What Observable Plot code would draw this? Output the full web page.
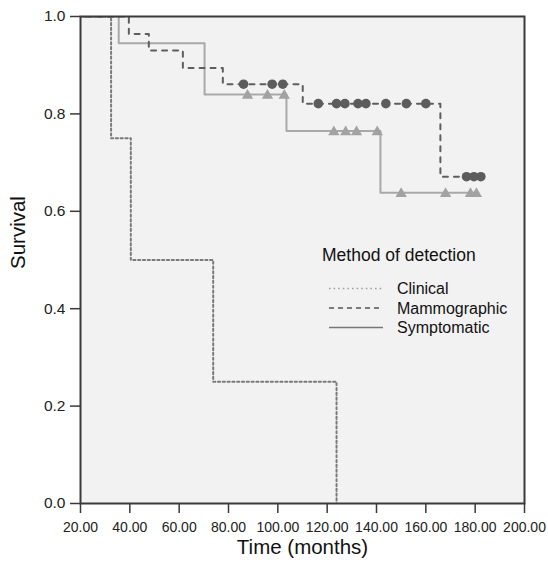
<!DOCTYPE html>
<html>
<head>
<meta charset="utf-8">
<script src="https://cdn.jsdelivr.net/npm/d3@7"></script>
<script src="https://cdn.jsdelivr.net/npm/@observablehq/plot@0.6"></script>
<style>
  body { margin: 0; background: #fff; }
  #chart { position: relative; width: 548px; height: 562px; }
</style>
</head>
<body>
<div id="chart"></div>
<script>
// ---- data ----
const groups = ["Clinical", "Mammographic", "Symptomatic"];

const clinicalTime = [0, 32.4, 40.4, 73.8, 123.8];
const clinicalSurv = [1, 0.75, 0.5, 0.25, 0];

const mammoTime = [0, 39.6, 47.7, 61.5, 77.7, 110.1, 165.9, 182.3];
const mammoSurv = [1, 0.964, 0.930, 0.894, 0.861, 0.821, 0.671, 0.671];

const sympTime = [0, 35.5, 70.3, 103.5, 141.6, 180.5];
const sympSurv = [1, 0.945, 0.840, 0.765, 0.638, 0.638];

const mammoCensorTime = [86.1, 97.7, 102.0, 116.4, 123.8, 127.2, 132.5, 135.7, 143.8, 152.1, 160.0, 176.5, 179.5, 182.3];
const mammoCensorSurv = [0.861, 0.861, 0.861, 0.821, 0.821, 0.821, 0.821, 0.821, 0.821, 0.821, 0.821, 0.671, 0.671, 0.671];

const sympCensorTime = [87.7, 95.8, 102.6, 122.7, 127.5, 131.9, 140.3, 150.0, 168.0, 178.1, 180.5];
const sympCensorSurv = [0.840, 0.840, 0.840, 0.765, 0.765, 0.765, 0.765, 0.638, 0.638, 0.638, 0.638];

const xTicks = [20, 40, 60, 80, 100, 120, 140, 160, 180, 200];
const yTicks = [0, 0.2, 0.4, 0.6, 0.8, 1.0];

const xTitle = "Time (months)";
const yTitle = "Survival";
const legendTitle = "Method of detection";

// ---- tables ----
const zip = (t, s) => t.map((d, i) => ({time: d, surv: s[i]}));
const clinical = zip(clinicalTime, clinicalSurv);
const mammo = zip(mammoTime, mammoSurv);
const symp = zip(sympTime, sympSurv);
const mammoCens = zip(mammoCensorTime, mammoCensorSurv);
const sympCens = zip(sympCensorTime, sympCensorSurv);

const styles = {
  Clinical:     {stroke: "#7a7a7a", dash: "2.2,2.6", legendStroke: "#a0a0a0", legendDash: "1.6,3"},
  Mammographic: {stroke: "#5e5e5e", dash: "5,6",     legendStroke: "#555",    legendDash: "5,4"},
  Symptomatic:  {stroke: "#a9a9a9", dash: null,      legendStroke: "#777",    legendDash: null}
};

const font = "'Liberation Sans', Arial, sans-serif";

const plot = Plot.plot({
  width: 548,
  height: 562,
  marginLeft: 80,
  marginRight: 24,
  marginTop: 16,
  marginBottom: 59,
  style: {fontFamily: font, fontSize: "15px", background: "#fff", color: "#222"},
  x: {domain: [20, 200], label: null},
  y: {domain: [0, 1], label: null},
  marks: [
    Plot.frame({fill: "#f2f2f2", stroke: null}),
    Plot.line(clinical, {x: "time", y: "surv", curve: "step-after", stroke: styles.Clinical.stroke, strokeWidth: 2, strokeDasharray: styles.Clinical.dash, clip: true}),
    Plot.line(symp, {x: "time", y: "surv", curve: "step-after", stroke: styles.Symptomatic.stroke, strokeWidth: 2, clip: true}),
    Plot.line(mammo, {x: "time", y: "surv", curve: "step-after", stroke: styles.Mammographic.stroke, strokeWidth: 2, strokeDasharray: styles.Mammographic.dash, clip: true}),
    Plot.dot(sympCens, {x: "time", y: "surv", symbol: "triangle", r: 4.2, fill: "#a2a2a2", stroke: "none", dy: 1}),
    Plot.dot(mammoCens, {x: "time", y: "surv", r: 4.8, fill: "#5c5c5c", stroke: "none"}),
    Plot.frame({stroke: "#3a3a3a", strokeWidth: 2}),
    Plot.axisX({ticks: xTicks, tickFormat: d3.format(".2f"), tickSize: 10, tickPadding: 9, stroke: "#3a3a3a", strokeWidth: 1.5, fontSize: 14, label: null}),
    Plot.axisY({ticks: yTicks, tickFormat: d3.format(".1f"), tickSize: 10, tickPadding: 5, stroke: "#3a3a3a", strokeWidth: 1.5, fontSize: 15.5, label: null}),
    Plot.text([xTitle], {text: d => d, frameAnchor: "bottom", dy: 50, fontSize: 20.5, fill: "#111"}),
    Plot.text([yTitle], {text: d => d, frameAnchor: "left", dx: -62, dy: 9, rotate: -90, fontSize: 20.5, fill: "#111"})
  ]
});

document.getElementById("chart").appendChild(plot);

// ---- legend inside the plot area ----
const svg = d3.select(plot);
const lg = svg.append("g")
  .attr("font-family", font)
  .attr("text-anchor", "start")
  .attr("fill", "#111");
lg.append("text").attr("x", 322).attr("y", 261).attr("font-size", 17.5).text(legendTitle);
groups.forEach((g, i) => {
  const y = 288.5 + i * 19.5;
  const s = styles[g];
  lg.append("line")
    .attr("x1", 329).attr("x2", 383).attr("y1", y).attr("y2", y)
    .attr("stroke", s.legendStroke).attr("stroke-width", 1.5)
    .attr("stroke-dasharray", s.legendDash);
  lg.append("text").attr("x", 397).attr("y", y + 5.5).attr("font-size", 16).text(g);
});
</script>
</body>
</html>
